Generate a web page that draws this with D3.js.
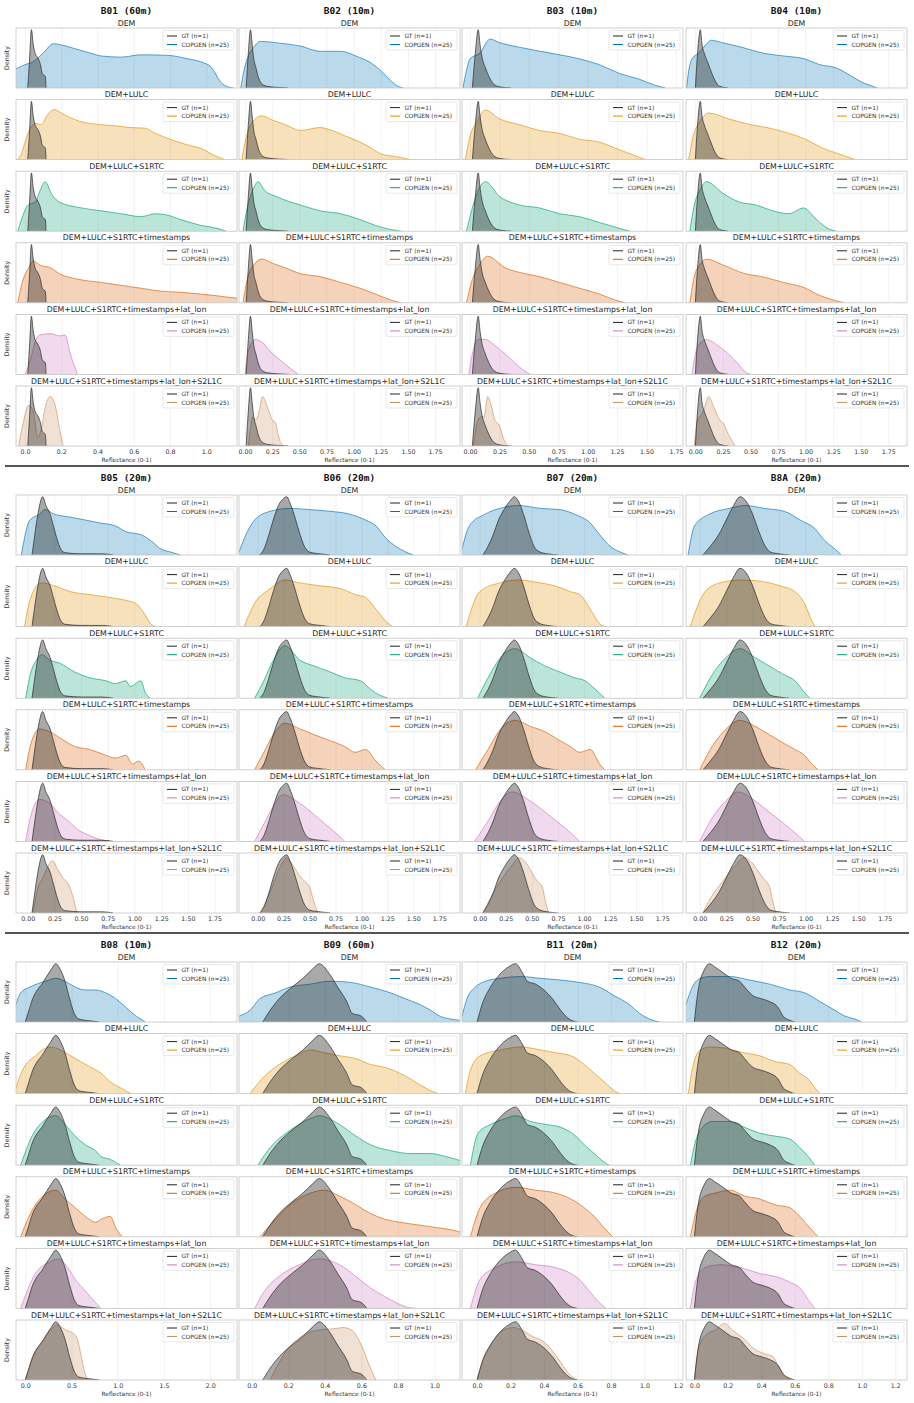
<!DOCTYPE html>
<html>
<head>
<meta charset="utf-8">
<script src="https://cdn.jsdelivr.net/npm/d3@7"></script>
<style>
  body { margin: 0; background: #fff; }
  svg { display: block; }
  text { font-family: "DejaVu Sans", sans-serif; }
</style>
</head>
<body>
<svg id="chart"></svg>
<script>
const bands = ['B01', 'B02', 'B03', 'B04', 'B05', 'B06', 'B07', 'B8A', 'B08', 'B09', 'B11', 'B12']
const bandTitles = ['B01 (60m)', 'B02 (10m)', 'B03 (10m)', 'B04 (10m)', 'B05 (20m)', 'B06 (20m)',
    'B07 (20m)', 'B8A (20m)', 'B08 (10m)', 'B09 (60m)', 'B11 (20m)', 'B12 (20m)']
const conditions = ['DEM', 'DEM+LULC', 'DEM+LULC+S1RTC', 'DEM+LULC+S1RTC+timestamps',
    'DEM+LULC+S1RTC+timestamps+lat_lon', 'DEM+LULC+S1RTC+timestamps+lat_lon+S2L1C']
const palette = ['#0173b2', '#de8f05', '#029e73', '#d55e00', '#cc78bc', '#ca9161']

const xDomains = [
    [-0.05, 1.17], [-0.056, 1.98], [-0.068, 1.81], [-0.085, 1.92],
    [-0.11, 1.96], [-0.18, 1.95], [-0.17, 1.95], [-0.13, 1.96],
    [-0.1, 2.29], [-0.07, 1.14], [-0.09, 1.23], [-0.05, 1.27]
]
const ticksA = [0, 0.2, 0.4, 0.6, 0.8, 1.0]
const ticksB = [0, 0.25, 0.5, 0.75, 1.0, 1.25, 1.5, 1.75]
const ticksC = [0, 0.5, 1.0, 1.5, 2.0]
const ticksD = [0, 0.2, 0.4, 0.6, 0.8, 1.0, 1.2]
const xTicks = [ticksA, ticksB, ticksB, ticksB, ticksB, ticksB, ticksB, ticksB, ticksC, ticksA, ticksD, ticksD]
const tickFormats = ['.1f', '.2f', '.2f', '.2f', '.2f', '.2f', '.2f', '.2f', '.1f', '.1f', '.1f', '.1f']

// ground truth density (n=1), [reflectance, relative density]
const gtCurves = [
    [[0.015,0],[0.025,0.5],[0.035,1.0],[0.045,0.75],[0.055,0.6],[0.07,0.52],[0.085,0.4],[0.095,0.25],[0.105,0.22],[0.112,0.2],[0.116,0]],
    [[0.01,0],[0.03,0.6],[0.05,1.0],[0.065,0.75],[0.08,0.5],[0.1,0.35],[0.12,0.2],[0.15,0.08],[0.2,0.03],[0.3,0.01],[0.4,0]],
    [[0.02,0],[0.045,0.6],[0.07,1.0],[0.085,0.75],[0.1,0.55],[0.13,0.35],[0.16,0.2],[0.2,0.07],[0.25,0.02],[0.35,0]],
    [[0.0,0],[0.02,0.6],[0.045,1.0],[0.06,0.75],[0.08,0.6],[0.11,0.45],[0.14,0.3],[0.18,0.12],[0.22,0.03],[0.3,0]],
    [[0.04,0],[0.07,0.4],[0.1,0.75],[0.14,1.0],[0.17,0.85],[0.21,0.7],[0.24,0.5],[0.27,0.3],[0.31,0.1],[0.35,0.04],[0.5,0.02],[0.7,0.02],[0.8,0]],
    [[0.02,0],[0.06,0.1],[0.1,0.3],[0.15,0.6],[0.2,0.85],[0.25,0.97],[0.28,1.0],[0.31,0.9],[0.35,0.7],[0.4,0.4],[0.45,0.15],[0.5,0.05],[0.6,0.02],[0.7,0]],
    [[0.03,0],[0.08,0.15],[0.13,0.35],[0.18,0.6],[0.24,0.8],[0.3,0.95],[0.33,1.0],[0.37,0.93],[0.42,0.7],[0.47,0.4],[0.52,0.15],[0.58,0.05],[0.65,0.02],[0.75,0]],
    [[0.03,0],[0.1,0.15],[0.18,0.35],[0.25,0.6],[0.32,0.85],[0.38,1.0],[0.44,0.92],[0.5,0.7],[0.56,0.4],[0.62,0.15],[0.67,0.05],[0.75,0.02],[0.85,0]],
    [[0.0,0],[0.03,0.15],[0.08,0.4],[0.13,0.55],[0.18,0.65],[0.23,0.78],[0.28,0.9],[0.33,1.0],[0.38,0.9],[0.43,0.7],[0.48,0.4],[0.53,0.15],[0.58,0.05],[0.7,0.02],[0.8,0]],
    [[0.06,0],[0.1,0.2],[0.15,0.4],[0.22,0.6],[0.28,0.75],[0.33,0.9],[0.37,1.0],[0.42,0.85],[0.47,0.6],[0.52,0.35],[0.55,0.15],[0.6,0.1],[0.63,0]],
    [[0.0,0],[0.03,0.3],[0.08,0.6],[0.13,0.8],[0.19,0.95],[0.23,1.0],[0.27,0.85],[0.3,0.7],[0.35,0.65],[0.4,0.55],[0.45,0.4],[0.5,0.2],[0.55,0.05],[0.6,0]],
    [[0.0,0],[0.02,0.5],[0.06,0.9],[0.09,1.0],[0.12,0.95],[0.17,0.85],[0.22,0.75],[0.27,0.7],[0.3,0.6],[0.35,0.45],[0.4,0.4],[0.45,0.35],[0.5,0.25],[0.53,0.1],[0.57,0.03],[0.6,0]]
]

// COPGEN densities (n=25), one curve per conditioning set
const copgenB01 = [
    [[-0.05,0.33],[0.0,0.4],[0.045,0.45],[0.1,0.6],[0.157,0.76],[0.2,0.74],[0.27,0.68],[0.36,0.6],[0.42,0.55],[0.53,0.53],[0.64,0.57],[0.79,0.56],[0.9,0.5],[0.97,0.45],[1.03,0.35],[1.08,0.1],[1.12,0.02],[1.15,0]],
    [[-0.04,0],[-0.02,0.1],[0.0,0.3],[0.03,0.55],[0.06,0.62],[0.09,0.6],[0.12,0.75],[0.16,0.86],[0.2,0.8],[0.25,0.72],[0.3,0.66],[0.36,0.62],[0.42,0.6],[0.5,0.58],[0.58,0.55],[0.66,0.54],[0.72,0.45],[0.8,0.35],[0.9,0.25],[0.98,0.18],[1.04,0.08],[1.08,0.03],[1.1,0]],
    [[-0.04,0],[-0.03,0.1],[0.017,0.45],[0.056,0.5],[0.083,0.7],[0.11,0.85],[0.15,0.62],[0.19,0.5],[0.31,0.4],[0.42,0.35],[0.53,0.3],[0.64,0.25],[0.72,0.3],[0.78,0.28],[0.86,0.2],[0.97,0.1],[1.06,0.05],[1.11,0]],
    [[-0.04,0],[-0.02,0.3],[0.02,0.6],[0.045,0.72],[0.08,0.65],[0.14,0.6],[0.19,0.5],[0.3,0.4],[0.42,0.35],[0.53,0.3],[0.64,0.25],[0.75,0.2],[0.86,0.18],[0.97,0.15],[1.06,0.12],[1.11,0.1],[1.17,0.08]],
    [[0.0,0],[0.03,0.25],[0.06,0.6],[0.085,0.68],[0.14,0.7],[0.19,0.66],[0.22,0.68],[0.25,0.35],[0.29,0]],
    [[-0.035,0],[-0.01,0.4],[0.02,0.7],[0.045,0.6],[0.07,0.15],[0.09,0.3],[0.11,0.65],[0.14,0.85],[0.17,0.65],[0.19,0.3],[0.21,0]]
]
const copgenB02 = [
    [[-0.04,0],[-0.01,0.3],[0.03,0.55],[0.08,0.7],[0.14,0.8],[0.32,0.77],[0.51,0.72],[0.69,0.63],[0.88,0.63],[1.02,0.55],[1.16,0.43],[1.25,0.3],[1.34,0.13],[1.42,0.02],[1.46,0]],
    [[-0.03,0],[0.0,0.3],[0.05,0.6],[0.157,0.75],[0.25,0.68],[0.37,0.6],[0.51,0.5],[0.69,0.55],[0.8,0.5],[0.93,0.4],[1.06,0.3],[1.16,0.2],[1.25,0.1],[1.39,0.05],[1.53,0]],
    [[-0.02,0],[0.02,0.4],[0.07,0.7],[0.12,0.85],[0.18,0.7],[0.28,0.6],[0.42,0.5],[0.51,0.45],[0.69,0.35],[0.88,0.3],[1.06,0.2],[1.2,0.1],[1.34,0.03],[1.44,0]],
    [[-0.02,0],[0.02,0.4],[0.08,0.65],[0.157,0.75],[0.25,0.68],[0.37,0.6],[0.51,0.5],[0.69,0.45],[0.88,0.35],[1.06,0.25],[1.2,0.15],[1.34,0.05],[1.44,0]],
    [[0.0,0],[0.03,0.4],[0.093,0.6],[0.157,0.55],[0.23,0.4],[0.32,0.25],[0.42,0.1],[0.49,0]],
    [[0.03,0],[0.05,0.3],[0.07,0.5],[0.1,0.45],[0.13,0.6],[0.16,0.85],[0.2,0.7],[0.25,0.45],[0.28,0.4],[0.31,0.15],[0.35,0]]
]
const copgenB03 = [
    [[-0.06,0],[-0.03,0.3],[0.0,0.5],[0.085,0.6],[0.17,0.84],[0.25,0.78],[0.42,0.7],[0.68,0.6],[0.93,0.5],[1.1,0.4],[1.27,0.25],[1.44,0.15],[1.57,0.05],[1.66,0]],
    [[-0.04,0],[0.0,0.4],[0.06,0.65],[0.13,0.85],[0.25,0.7],[0.42,0.6],[0.59,0.5],[0.76,0.45],[0.93,0.35],[1.1,0.3],[1.23,0.2],[1.36,0.1],[1.49,0]],
    [[-0.03,0],[0.02,0.4],[0.07,0.7],[0.13,0.85],[0.25,0.6],[0.42,0.45],[0.59,0.4],[0.76,0.3],[0.93,0.25],[1.1,0.15],[1.27,0.05],[1.36,0]],
    [[-0.03,0],[0.02,0.4],[0.08,0.65],[0.15,0.8],[0.3,0.6],[0.47,0.5],[0.59,0.45],[0.76,0.35],[0.93,0.25],[1.1,0.15],[1.23,0.05],[1.32,0]],
    [[-0.01,0],[0.02,0.35],[0.068,0.6],[0.13,0.6],[0.21,0.5],[0.3,0.35],[0.38,0.2],[0.47,0.05],[0.51,0]],
    [[0.03,0],[0.06,0.4],[0.09,0.5],[0.12,0.5],[0.15,0.85],[0.18,0.7],[0.21,0.45],[0.25,0.35],[0.29,0.1],[0.32,0]]
]
const copgenB04 = [
    [[-0.08,0],[-0.06,0.3],[-0.03,0.5],[0.03,0.6],[0.1,0.75],[0.14,0.82],[0.24,0.78],[0.42,0.7],[0.61,0.6],[0.8,0.55],[0.99,0.5],[1.13,0.4],[1.27,0.35],[1.42,0.2],[1.51,0.1],[1.58,0.05],[1.65,0]],
    [[-0.06,0],[-0.02,0.4],[0.04,0.65],[0.12,0.8],[0.3,0.7],[0.5,0.6],[0.65,0.55],[0.85,0.45],[1.0,0.35],[1.15,0.2],[1.3,0.1],[1.45,0]],
    [[-0.05,0],[-0.01,0.45],[0.04,0.7],[0.1,0.85],[0.25,0.65],[0.4,0.5],[0.55,0.45],[0.7,0.35],[0.85,0.3],[0.98,0.4],[1.1,0.2],[1.2,0.05],[1.28,0]],
    [[-0.05,0],[-0.01,0.45],[0.04,0.65],[0.1,0.75],[0.25,0.65],[0.45,0.5],[0.6,0.45],[0.8,0.35],[1.0,0.25],[1.1,0.15],[1.25,0.05],[1.35,0]],
    [[-0.03,0],[0.0,0.35],[0.05,0.55],[0.1,0.6],[0.2,0.5],[0.3,0.35],[0.38,0.2],[0.45,0.05],[0.5,0]],
    [[-0.01,0],[0.02,0.45],[0.06,0.55],[0.09,0.7],[0.12,0.85],[0.16,0.7],[0.22,0.45],[0.25,0.4],[0.3,0.2],[0.36,0]]
]
const copgenB05 = [
    [[-0.06,0],[0.02,0.6],[0.11,0.7],[0.16,0.78],[0.25,0.7],[0.4,0.65],[0.54,0.6],[0.68,0.55],[0.82,0.5],[0.92,0.4],[1.06,0.35],[1.15,0.25],[1.25,0.1],[1.34,0.05],[1.43,0]],
    [[-0.03,0],[0.0,0.3],[0.05,0.6],[0.13,0.75],[0.25,0.7],[0.4,0.6],[0.58,0.55],[0.77,0.5],[0.92,0.45],[1.01,0.4],[1.1,0.2],[1.15,0.05],[1.2,0]],
    [[-0.02,0],[0.03,0.45],[0.08,0.65],[0.13,0.75],[0.21,0.65],[0.3,0.6],[0.44,0.45],[0.58,0.35],[0.73,0.3],[0.82,0.25],[0.92,0.3],[0.96,0.2],[1.06,0.3],[1.1,0.1],[1.15,0]],
    [[-0.02,0],[0.03,0.45],[0.11,0.7],[0.21,0.65],[0.3,0.55],[0.44,0.4],[0.58,0.35],[0.73,0.25],[0.82,0.2],[0.92,0.25],[0.98,0.1],[1.04,0.15],[1.1,0]],
    [[-0.02,0],[0.03,0.45],[0.11,0.72],[0.21,0.65],[0.28,0.5],[0.38,0.35],[0.47,0.2],[0.58,0.1],[0.68,0.03],[0.77,0]],
    [[0.05,0],[0.09,0.4],[0.14,0.6],[0.19,0.8],[0.23,0.9],[0.28,0.75],[0.33,0.6],[0.38,0.5],[0.42,0.3],[0.46,0]]
]
const copgenB06 = [
    [[-0.18,0.05],[-0.1,0.4],[-0.03,0.6],[0.12,0.75],[0.31,0.8],[0.5,0.78],[0.7,0.75],[0.89,0.7],[1.04,0.6],[1.14,0.5],[1.23,0.3],[1.33,0.15],[1.43,0.05],[1.5,0]],
    [[-0.13,0],[-0.03,0.4],[0.12,0.65],[0.26,0.8],[0.41,0.75],[0.6,0.7],[0.8,0.65],[0.94,0.55],[1.04,0.5],[1.14,0.3],[1.23,0.1],[1.3,0]],
    [[-0.03,0],[0.06,0.3],[0.15,0.65],[0.26,0.9],[0.41,0.65],[0.55,0.55],[0.7,0.45],[0.84,0.35],[0.99,0.3],[1.09,0.15],[1.18,0.05],[1.26,0]],
    [[-0.03,0],[0.06,0.3],[0.15,0.6],[0.26,0.8],[0.41,0.7],[0.55,0.6],[0.7,0.5],[0.84,0.4],[0.94,0.3],[1.04,0.35],[1.14,0.15],[1.23,0]],
    [[-0.03,0],[0.06,0.3],[0.15,0.6],[0.24,0.8],[0.41,0.65],[0.55,0.45],[0.65,0.3],[0.75,0.15],[0.84,0]],
    [[0.02,0],[0.08,0.2],[0.15,0.5],[0.22,0.8],[0.28,0.95],[0.33,0.85],[0.4,0.65],[0.45,0.55],[0.5,0.45],[0.54,0.2],[0.58,0]]
]
const copgenB07 = [
    [[-0.17,0.1],[-0.1,0.5],[0.05,0.7],[0.19,0.8],[0.38,0.85],[0.58,0.8],[0.77,0.78],[0.91,0.7],[1.06,0.55],[1.15,0.35],[1.25,0.15],[1.35,0.05],[1.42,0]],
    [[-0.13,0],[0.0,0.6],[0.19,0.75],[0.38,0.8],[0.58,0.75],[0.72,0.7],[0.87,0.6],[0.96,0.55],[1.06,0.3],[1.15,0.05],[1.2,0]],
    [[-0.02,0],[0.08,0.35],[0.2,0.7],[0.34,0.85],[0.48,0.7],[0.63,0.55],[0.77,0.45],[0.91,0.35],[1.01,0.3],[1.11,0.15],[1.2,0]],
    [[-0.04,0],[0.08,0.35],[0.2,0.7],[0.34,0.85],[0.48,0.75],[0.63,0.65],[0.77,0.5],[0.87,0.4],[0.96,0.3],[1.06,0.35],[1.15,0.1],[1.2,0]],
    [[-0.05,0],[0.08,0.35],[0.2,0.7],[0.31,0.85],[0.48,0.7],[0.63,0.5],[0.77,0.3],[0.87,0.15],[0.96,0]],
    [[0.03,0],[0.1,0.25],[0.2,0.55],[0.3,0.8],[0.38,0.95],[0.45,0.85],[0.5,0.7],[0.55,0.55],[0.6,0.45],[0.63,0.2],[0.66,0]]
]
const copgenB8A = [
    [[-0.11,0],[-0.05,0.5],[0.09,0.7],[0.28,0.8],[0.43,0.85],[0.61,0.8],[0.8,0.75],[0.95,0.6],[1.09,0.45],[1.18,0.25],[1.28,0.1],[1.34,0]],
    [[-0.09,0],[0.05,0.6],[0.19,0.75],[0.38,0.8],[0.57,0.78],[0.76,0.7],[0.9,0.6],[0.99,0.4],[1.06,0.1],[1.09,0]],
    [[0.0,0],[0.1,0.35],[0.25,0.7],[0.38,0.85],[0.52,0.7],[0.66,0.55],[0.8,0.4],[0.9,0.3],[0.99,0.1],[1.04,0]],
    [[0.0,0],[0.1,0.35],[0.25,0.7],[0.38,0.85],[0.52,0.75],[0.66,0.6],[0.8,0.45],[0.9,0.35],[0.99,0.25],[1.06,0.1],[1.12,0]],
    [[0.0,0],[0.1,0.35],[0.25,0.7],[0.36,0.85],[0.52,0.7],[0.66,0.5],[0.8,0.3],[0.93,0.1],[0.99,0]],
    [[0.03,0],[0.1,0.25],[0.22,0.55],[0.33,0.8],[0.42,0.95],[0.5,0.85],[0.56,0.7],[0.6,0.6],[0.66,0.45],[0.69,0.2],[0.72,0]]
]
const copgenB08 = [
    [[-0.1,0.3],[-0.05,0.5],[0.05,0.6],[0.22,0.7],[0.33,0.75],[0.43,0.7],[0.54,0.6],[0.65,0.55],[0.76,0.55],[0.87,0.5],[0.98,0.4],[1.09,0.25],[1.2,0.1],[1.25,0.05],[1.3,0]],
    [[-0.1,0.1],[-0.03,0.4],[0.11,0.65],[0.27,0.8],[0.38,0.75],[0.49,0.65],[0.6,0.55],[0.71,0.45],[0.82,0.35],[0.92,0.2],[1.03,0.1],[1.14,0]],
    [[-0.05,0],[0.11,0.6],[0.33,0.85],[0.43,0.7],[0.54,0.5],[0.65,0.35],[0.76,0.25],[0.82,0.15],[0.92,0.1],[1.03,0]],
    [[-0.05,0],[0.11,0.55],[0.33,0.8],[0.43,0.65],[0.54,0.5],[0.65,0.35],[0.76,0.25],[0.82,0.3],[0.92,0.35],[0.98,0.15],[1.05,0]],
    [[-0.05,0],[0.11,0.6],[0.27,0.8],[0.35,0.85],[0.46,0.7],[0.54,0.5],[0.65,0.3],[0.76,0.1],[0.82,0]],
    [[0.0,0],[0.05,0.25],[0.1,0.45],[0.2,0.7],[0.3,0.9],[0.35,0.95],[0.4,0.9],[0.45,0.85],[0.5,0.82],[0.56,0.72],[0.6,0.45],[0.64,0.15],[0.68,0]]
]
const copgenB09 = [
    [[-0.07,0.1],[-0.01,0.2],[0.044,0.4],[0.13,0.5],[0.21,0.6],[0.32,0.65],[0.43,0.7],[0.54,0.68],[0.65,0.6],[0.76,0.5],[0.84,0.4],[0.92,0.3],[0.98,0.2],[1.03,0.1],[1.09,0.05],[1.14,0.03]],
    [[-0.01,0],[0.07,0.3],[0.15,0.5],[0.24,0.65],[0.32,0.75],[0.4,0.7],[0.48,0.65],[0.57,0.6],[0.65,0.5],[0.73,0.45],[0.81,0.35],[0.87,0.25],[0.92,0.15],[0.98,0.05],[1.02,0]],
    [[0.033,0],[0.1,0.3],[0.21,0.6],[0.32,0.8],[0.37,0.85],[0.48,0.7],[0.57,0.5],[0.65,0.35],[0.76,0.25],[0.87,0.2],[0.98,0.2],[1.06,0.15],[1.12,0.1],[1.14,0.08]],
    [[0.044,0],[0.13,0.3],[0.21,0.55],[0.32,0.75],[0.4,0.8],[0.48,0.7],[0.57,0.55],[0.65,0.4],[0.73,0.3],[0.81,0.25],[0.92,0.2],[1.03,0.15],[1.12,0.1],[1.14,0.08]],
    [[0.016,0],[0.07,0.3],[0.15,0.55],[0.26,0.75],[0.37,0.85],[0.48,0.75],[0.57,0.55],[0.65,0.35],[0.73,0.2],[0.79,0.1],[0.84,0.03],[0.9,0]],
    [[0.1,0],[0.15,0.3],[0.2,0.55],[0.25,0.7],[0.3,0.8],[0.35,0.85],[0.45,0.88],[0.5,0.9],[0.55,0.85],[0.6,0.6],[0.65,0.2],[0.68,0]]
]
const copgenB11 = [
    [[-0.09,0.1],[-0.06,0.4],[-0.01,0.6],[0.05,0.7],[0.14,0.75],[0.26,0.78],[0.38,0.75],[0.5,0.72],[0.61,0.68],[0.73,0.6],[0.82,0.45],[0.91,0.3],[0.97,0.15],[1.03,0.05],[1.09,0]],
    [[-0.07,0],[-0.04,0.4],[0.018,0.65],[0.14,0.75],[0.26,0.8],[0.38,0.75],[0.47,0.7],[0.56,0.65],[0.64,0.5],[0.7,0.35],[0.76,0.2],[0.82,0.05],[0.85,0]],
    [[-0.04,0],[0.006,0.55],[0.08,0.7],[0.17,0.8],[0.23,0.85],[0.32,0.75],[0.41,0.7],[0.5,0.65],[0.59,0.5],[0.64,0.35],[0.7,0.2],[0.76,0.05],[0.79,0]],
    [[-0.04,0],[0.018,0.5],[0.11,0.75],[0.23,0.85],[0.35,0.8],[0.47,0.75],[0.56,0.65],[0.64,0.5],[0.7,0.35],[0.76,0.15],[0.81,0]],
    [[-0.04,0],[0.018,0.5],[0.11,0.7],[0.23,0.8],[0.35,0.75],[0.47,0.7],[0.56,0.6],[0.61,0.5],[0.67,0.3],[0.73,0.1],[0.77,0]],
    [[0.0,0],[0.04,0.4],[0.08,0.6],[0.15,0.85],[0.22,0.9],[0.27,0.85],[0.33,0.75],[0.4,0.65],[0.45,0.5],[0.5,0.3],[0.55,0.1],[0.6,0]]
]
const copgenB12 = [
    [[-0.05,0.3],[-0.012,0.6],[0.036,0.75],[0.095,0.78],[0.214,0.78],[0.33,0.72],[0.45,0.65],[0.57,0.55],[0.66,0.5],[0.75,0.35],[0.84,0.2],[0.9,0.1],[0.96,0.05],[1.0,0]],
    [[-0.036,0],[-0.006,0.5],[0.036,0.75],[0.095,0.8],[0.185,0.78],[0.3,0.7],[0.39,0.65],[0.48,0.55],[0.57,0.5],[0.63,0.35],[0.68,0.25],[0.72,0.1],[0.75,0]],
    [[-0.024,0],[0.006,0.4],[0.048,0.65],[0.107,0.75],[0.214,0.75],[0.3,0.65],[0.39,0.55],[0.48,0.5],[0.57,0.45],[0.63,0.3],[0.68,0.15],[0.72,0]],
    [[-0.024,0],[0.018,0.5],[0.065,0.7],[0.125,0.75],[0.214,0.8],[0.3,0.7],[0.39,0.65],[0.48,0.55],[0.57,0.5],[0.63,0.35],[0.69,0.15],[0.74,0]],
    [[-0.024,0],[0.006,0.45],[0.065,0.7],[0.155,0.75],[0.274,0.7],[0.39,0.6],[0.48,0.55],[0.57,0.45],[0.63,0.35],[0.68,0.15],[0.72,0]],
    [[0.0,0],[0.03,0.6],[0.08,0.8],[0.12,0.85],[0.18,0.97],[0.23,0.85],[0.3,0.7],[0.35,0.55],[0.42,0.45],[0.47,0.4],[0.5,0.25],[0.55,0.05],[0.57,0]]
]
const copgenCurves = [copgenB01, copgenB02, copgenB03, copgenB04, copgenB05, copgenB06,
    copgenB07, copgenB8A, copgenB08, copgenB09, copgenB11, copgenB12]

const svg = d3.select('#chart')
    .attr('width', 914)
    .attr('height', 1403)

const colLeft = [16, 239, 462, 686]
const pw = 221, ph = 60
const rowStep = 71.6
const groupStep = 467

bands.forEach((band, i) => {
    const grp = Math.floor(i / 4), col = i % 4
    const gy = grp * groupStep
    const left = colLeft[col]

    svg.append('text')
        .attr('x', left + pw / 2)
        .attr('y', gy + 14)
        .attr('text-anchor', 'middle')
        .style('font-family', '"DejaVu Sans Mono", monospace')
        .style('font-weight', 'bold')
        .style('font-size', '9.5px')
        .attr('fill', '#111')
        .text(bandTitles[i])

    const x = d3.scaleLinear()
        .domain(xDomains[i])
        .range([left, left + pw])

    conditions.forEach((cond, r) => {
        const top = gy + 28 + r * rowStep
        const gt = gtCurves[i]
        const gen = copgenCurves[i][r]
        const ymax = d3.max(gt.concat(gen), d => d[1])
        const y = d3.scaleLinear()
            .domain([0, ymax * 1.03])
            .range([top + ph, top])

        const clipId = `clip-${band}-${r}`
        svg.append('clipPath').attr('id', clipId)
            .append('rect')
            .attr('x', left).attr('y', top)
            .attr('width', pw).attr('height', ph)

        // subplot title
        svg.append('text')
            .attr('x', left + pw / 2)
            .attr('y', top - 2.5)
            .attr('text-anchor', 'middle')
            .style('font-size', '7.8px')
            .attr('fill', '#262626')
            .text(cond)

        // vertical grid
        svg.append('g')
            .attr('transform', `translate(0,${top + ph})`)
            .call(d3.axisBottom(x).tickValues(xTicks[i]).tickSize(-ph).tickFormat(''))
            .call(g => g.select('.domain').remove())
            .call(g => g.selectAll('line').attr('stroke', '#ececec').attr('stroke-width', 0.7))

        const area = d3.area()
            .x(d => x(d[0]))
            .y0(y(0))
            .y1(d => y(d[1]))
            .curve(d3.curveMonotoneX)
        const line = d3.line()
            .x(d => x(d[0]))
            .y(d => y(d[1]))
            .curve(d3.curveMonotoneX)

        const plot = svg.append('g').attr('clip-path', `url(#${clipId})`)
        plot.append('path')
            .datum(gen)
            .attr('fill', palette[r])
            .attr('fill-opacity', 0.27)
            .attr('d', area)
        plot.append('path')
            .datum(gen)
            .attr('fill', 'none')
            .attr('stroke', palette[r])
            .attr('stroke-opacity', 0.8)
            .attr('stroke-width', 0.8)
            .attr('d', line)
        plot.append('path')
            .datum(gt)
            .attr('fill', '#111')
            .attr('fill-opacity', 0.36)
            .attr('d', area)
        plot.append('path')
            .datum(gt)
            .attr('fill', 'none')
            .attr('stroke', '#2a2a2a')
            .attr('stroke-width', 0.7)
            .attr('d', line)

        // frame
        svg.append('rect')
            .attr('x', left).attr('y', top)
            .attr('width', pw).attr('height', ph)
            .attr('fill', 'none')
            .attr('stroke', '#c4c4c4')
            .attr('stroke-width', 0.8)

        // legend
        const lx = left + pw - 74, ly = top + 2.5
        const leg = svg.append('g').attr('transform', `translate(${lx},${ly})`)
        leg.append('rect')
            .attr('width', 71).attr('height', 19.5).attr('rx', 1.5)
            .attr('fill', '#fff').attr('fill-opacity', 0.85)
            .attr('stroke', '#d8d8d8').attr('stroke-width', 0.6)
        const entries = [['GT (n=1)', '#222'], ['COPGEN (n=25)', palette[r]]]
        entries.forEach(([label, color], k) => {
            const ey = 5.5 + k * 8.5
            leg.append('line')
                .attr('x1', 4).attr('x2', 14)
                .attr('y1', ey).attr('y2', ey)
                .attr('stroke', color).attr('stroke-width', 1)
            leg.append('text')
                .attr('x', 18.5).attr('y', ey + 2.1)
                .style('font-size', '5.9px')
                .attr('fill', '#333')
                .text(label)
        })

        if (col === 0) {
            svg.append('text')
                .attr('transform', `translate(9,${top + ph / 2}) rotate(-90)`)
                .attr('text-anchor', 'middle')
                .style('font-size', '6.3px')
                .attr('fill', '#333')
                .text('Density')
        }

        if (r === conditions.length - 1) {
            svg.append('g')
                .attr('transform', `translate(0,${top + ph})`)
                .call(d3.axisBottom(x).tickValues(xTicks[i]).tickSize(0).tickPadding(3.5)
                    .tickFormat(d3.format(tickFormats[i])))
                .call(g => g.select('.domain').remove())
                .call(g => g.selectAll('text')
                    .style('font-family', '"DejaVu Sans", sans-serif')
                    .style('font-size', '6.3px')
                    .attr('fill', '#333'))
            svg.append('text')
                .attr('x', left + pw / 2)
                .attr('y', top + ph + 16)
                .attr('text-anchor', 'middle')
                .style('font-size', '5.8px')
                .attr('fill', '#333')
                .text('Reflectance (0-1)')
        }
    })
})

// group separators
;[1, 2].forEach(k => {
    svg.append('line')
        .attr('x1', 5).attr('x2', 909)
        .attr('y1', k * groupStep - 1).attr('y2', k * groupStep - 1)
        .attr('stroke', '#555')
        .attr('stroke-width', 2)
})
</script>
</body>
</html>
